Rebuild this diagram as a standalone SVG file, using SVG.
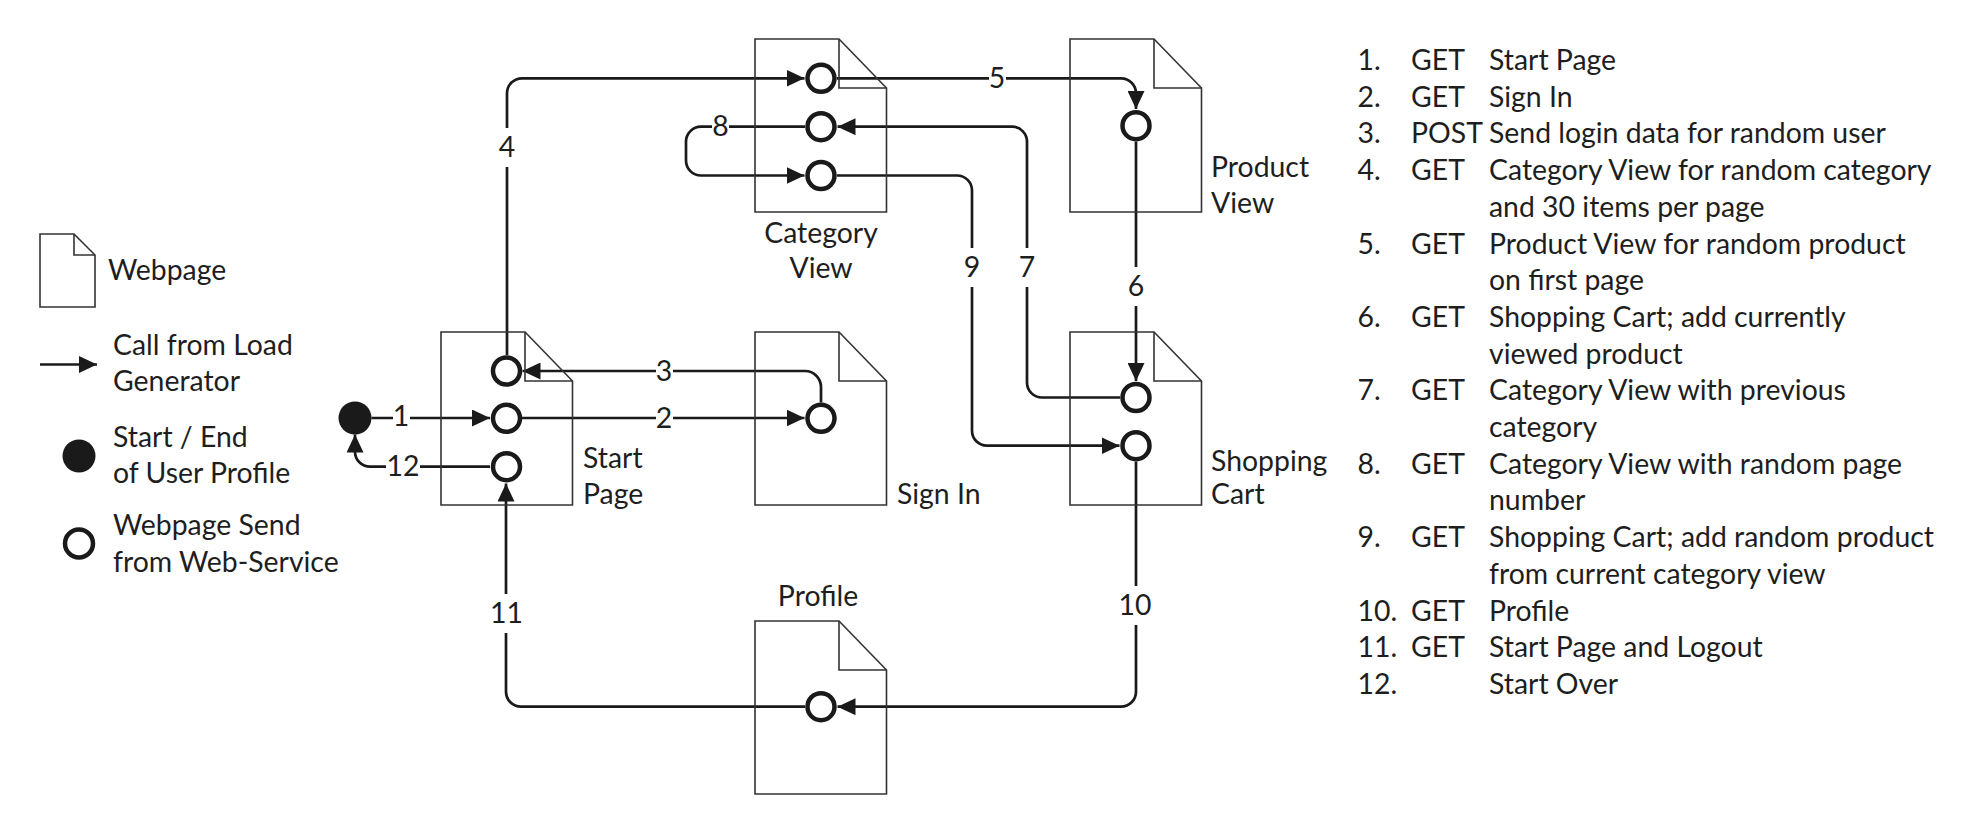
<svg xmlns="http://www.w3.org/2000/svg" width="1975" height="837" viewBox="0 0 1975 837">
<style>
  text { font-family: Lato, "Open Sans", sans-serif; font-size: 28.4px; fill: #1e1e1e; }
  .doc { fill: none; stroke: #333; stroke-width: 1.6; stroke-linejoin: miter; }
  .fold { fill: none; stroke: #333; stroke-width: 1.6; }
  .port { fill: #fff; stroke: #1a1a1a; stroke-width: 4.5; }
  .start { fill: #1a1a1a; }
  .edge { fill: none; stroke: #1a1a1a; stroke-width: 2.7; marker-end: url(#arr); }
  .mask { fill: #fff; }
  .mid { text-anchor: middle; }
</style>
<defs>
  <marker id="arr" markerUnits="userSpaceOnUse" markerWidth="18" markerHeight="17" refX="18" refY="8.5" orient="auto">
    <path d="M0,0 L18,8.5 L0,17 z" fill="#1a1a1a"/>
  </marker>
  <g id="docshape">
    <path class="doc" d="M0,0 H84 L131.5,49 V173 H0 Z"/>
    <path class="fold" d="M84,0 V49 H131.5"/>
  </g>
</defs>
<rect width="1975" height="837" fill="#fff"/>

<!-- Legend -->
<g id="legend">
  <path class="doc" d="M40,234 H74 L95,255 V307 H40 Z"/>
  <path class="fold" d="M74,234 V255 H95"/>
  <text x="108" y="280">Webpage</text>
  <line x1="40" y1="364.5" x2="97" y2="364.5" stroke="#1a1a1a" stroke-width="2.7" marker-end="url(#arr)"/>
  <text x="113" y="355">Call from Load</text>
  <text x="113" y="391">Generator</text>
  <circle class="start" cx="79" cy="456" r="16.5"/>
  <text x="113" y="447">Start / End</text>
  <text x="113" y="483">of User Profile</text>
  <circle class="port" cx="79" cy="543.5" r="14"/>
  <text x="113" y="535">Webpage Send</text>
  <text x="113" y="572">from Web-Service</text>
</g>

<!-- Connectors -->
<g id="connectors">
  <path class="edge" d="M371.5,418 H490"/>
  <path class="edge" d="M522,418 H804.5"/>
  <path class="edge" d="M821,402.5 V387 A16,16 0 0 0 805,371 H522.5"/>
  <path class="edge" d="M507,355 V93 A15,15 0 0 1 522,78.3 H804.5"/>
  <path class="edge" d="M837,78.3 H1121 A15,15 0 0 1 1136,93.3 V109"/>
  <path class="edge" d="M1136,141.5 V381"/>
  <path class="edge" d="M1120,397.5 H1042 A15,15 0 0 1 1027,382.5 V141.7 A15,15 0 0 0 1012,126.7 H837.5"/>
  <path class="edge" d="M805,126.7 H701 A15,15 0 0 0 686,141.7 V160.5 A15,15 0 0 0 701,175.5 H804.5"/>
  <path class="edge" d="M837,175.5 H957 A15,15 0 0 1 972,190.5 V430.7 A15,15 0 0 0 987,445.7 H1119.5"/>
  <path class="edge" d="M1136,461.5 V691.7 A15,15 0 0 1 1121,706.7 H837.5"/>
  <path class="edge" d="M805,706.7 H521 A15,15 0 0 1 506,691.7 V483.5"/>
  <path class="edge" d="M490,466.7 H370 A15,15 0 0 1 355,451.7 V434.5"/>
  <g id="edge-labels">
    <rect class="mask" x="393" y="398" width="17" height="38"/><text class="mid" x="401" y="426">1</text>
    <rect class="mask" x="656" y="399" width="17" height="38"/><text class="mid" x="664" y="428">2</text>
    <rect class="mask" x="656" y="352" width="17" height="38"/><text class="mid" x="664" y="381">3</text>
    <rect class="mask" x="498" y="128" width="18" height="39"/><text class="mid" x="507" y="157">4</text>
    <rect class="mask" x="989" y="59" width="17" height="38"/><text class="mid" x="997" y="88">5</text>
    <rect class="mask" x="1127" y="267" width="18" height="39"/><text class="mid" x="1136" y="296">6</text>
    <rect class="mask" x="1018" y="248" width="18" height="39"/><text class="mid" x="1027" y="277">7</text>
    <rect class="mask" x="712" y="108" width="17" height="38"/><text class="mid" x="720.5" y="136">8</text>
    <rect class="mask" x="963" y="248" width="18" height="39"/><text class="mid" x="972" y="277">9</text>
    <rect class="mask" x="1118" y="586" width="34" height="39"/><text class="mid" x="1135" y="615">10</text>
    <rect class="mask" x="490" y="594" width="34" height="39"/><text class="mid" x="506.5" y="623">11</text>
    <rect class="mask" x="386" y="447" width="34" height="38"/><text class="mid" x="403" y="476">12</text>
  </g>
</g>

<!-- Start / End -->
<g id="start-end">
  <circle class="start" cx="355" cy="418" r="16.5"/>
</g>

<!-- Nodes -->
<g id="start-page">
  <use href="#docshape" x="441" y="332"/>
  <circle class="port" cx="506.5" cy="371" r="13.5"/>
  <circle class="port" cx="506.5" cy="418.3" r="13.5"/>
  <circle class="port" cx="506.5" cy="466.7" r="13.5"/>
  <text x="583" y="468">Start</text>
  <text x="583" y="504">Page</text>
</g>

<g id="sign-in">
  <use href="#docshape" x="755" y="332"/>
  <circle class="port" cx="821" cy="418.3" r="13.5"/>
  <text x="897" y="504">Sign In</text>
</g>

<g id="category-view">
  <use href="#docshape" x="755" y="39"/>
  <circle class="port" cx="821" cy="78.3" r="13.5"/>
  <circle class="port" cx="821" cy="126.7" r="13.5"/>
  <circle class="port" cx="821" cy="175.5" r="13.5"/>
  <text class="mid" x="821" y="243">Category</text>
  <text class="mid" x="821" y="278">View</text>
</g>

<g id="product-view">
  <use href="#docshape" x="1070" y="39"/>
  <circle class="port" cx="1136" cy="125.7" r="13.5"/>
  <text x="1211" y="177">Product</text>
  <text x="1211" y="213">View</text>
</g>

<g id="shopping-cart">
  <use href="#docshape" x="1070" y="332"/>
  <circle class="port" cx="1136" cy="397.5" r="13.5"/>
  <circle class="port" cx="1136" cy="445.7" r="13.5"/>
  <text x="1211" y="471">Shopping</text>
  <text x="1211" y="504">Cart</text>
</g>

<g id="profile">
  <use href="#docshape" x="755" y="621"/>
  <circle class="port" cx="821" cy="706.7" r="13.5"/>
  <text class="mid" x="818" y="605.5">Profile</text>
</g>

<!-- Request list -->
<g id="request-list">
  <text x="1357.6" y="70">1.</text><text x="1411" y="70">GET</text><text x="1489" y="70">Start Page</text>
  <text x="1357.6" y="106.7">2.</text><text x="1411" y="106.7">GET</text><text x="1489" y="106.7">Sign In</text>
  <text x="1357.6" y="143.4">3.</text><text x="1411" y="143.4">POST</text><text x="1489" y="143.4">Send login data for random user</text>
  <text x="1357.6" y="180.1">4.</text><text x="1411" y="180.1">GET</text><text x="1489" y="180.1">Category View for random category</text>
  <text x="1489" y="216.8">and 30 items per page</text>
  <text x="1357.6" y="253.5">5.</text><text x="1411" y="253.5">GET</text><text x="1489" y="253.5">Product View for random product</text>
  <text x="1489" y="290.2">on first page</text>
  <text x="1357.6" y="326.9">6.</text><text x="1411" y="326.9">GET</text><text x="1489" y="326.9">Shopping Cart; add currently</text>
  <text x="1489" y="363.6">viewed product</text>
  <text x="1357.6" y="400.3">7.</text><text x="1411" y="400.3">GET</text><text x="1489" y="400.3">Category View with previous</text>
  <text x="1489" y="437">category</text>
  <text x="1357.6" y="473.7">8.</text><text x="1411" y="473.7">GET</text><text x="1489" y="473.7">Category View with random page</text>
  <text x="1489" y="510.4">number</text>
  <text x="1357.6" y="547.1">9.</text><text x="1411" y="547.1">GET</text><text x="1489" y="547.1">Shopping Cart; add random product</text>
  <text x="1489" y="583.8">from current category view</text>
  <text x="1357.6" y="620.5">10.</text><text x="1411" y="620.5">GET</text><text x="1489" y="620.5">Profile</text>
  <text x="1357.6" y="657.2">11.</text><text x="1411" y="657.2">GET</text><text x="1489" y="657.2">Start Page and Logout</text>
  <text x="1357.6" y="693.9">12.</text><text x="1489" y="693.9">Start Over</text>
</g>
</svg>
